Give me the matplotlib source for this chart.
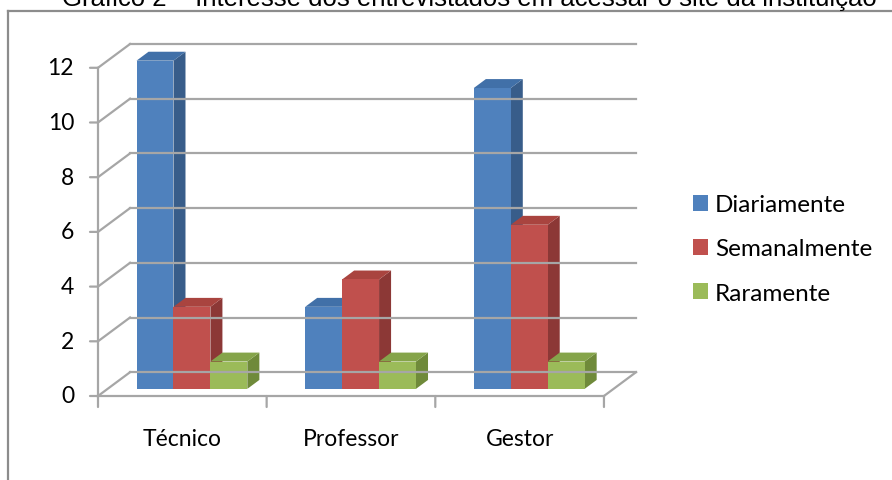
import numpy as np
import matplotlib.pyplot as plt
from matplotlib.patches import Polygon, Rectangle, Patch
from matplotlib.lines import Line2D

# dados do gráfico
categorias = ['Técnico', 'Professor', 'Gestor']
series = ['Diariamente', 'Semanalmente', 'Raramente']
diariamente = [12, 3, 11]
semanalmente = [3, 4, 6]
raramente = [1, 1, 1]
valores = [diariamente, semanalmente, raramente]
yticks = [0, 2, 4, 6, 8, 10, 12]

cor_frente = ['#4F81BD', '#C0504D', '#9BBB59']
cor_lado = ['#385D8A', '#8C3836', '#6F8A3A']
cor_topo = ['#4170A8', '#A9443F', '#85A44A']
cinza = '#A6A6A6'

# profundidade do efeito 3D (em unidades de dados)
DX, DY = 0.19, 0.87
f0, fd = 0.30, 0.375   # posição e espessura das barras na profundidade
w = 0.219              # largura de cada barra

fig = plt.figure(figsize=(8.92, 4.81), dpi=100)
ax = fig.add_axes([98/892, (481-397)/481, (636-98)/892, (397-45)/481])
ax.set_xlim(0, 3 + DX)
ax.set_ylim(0, 12 + DY)
ax.axis('off')

# parede do fundo e lateral
for v in yticks:
    ax.plot([DX, 3 + DX], [v + DY, v + DY], color=cinza, lw=1.6, clip_on=False)
    ax.plot([0, DX], [v, v + DY], color=cinza, lw=1.6, clip_on=False)
ax.plot([0, 3], [0, 0], color=cinza, lw=1.6, clip_on=False)
ax.plot([3, 3 + DX], [0, DY], color=cinza, lw=1.6, clip_on=False)
ax.plot([0, 0], [0, 12], color=cinza, lw=1.6, clip_on=False)

# marcas dos eixos
for v in yticks:
    ax.annotate('', xy=(0, v), xytext=(-8, 0), textcoords='offset pixels',
                arrowprops=dict(arrowstyle='-', color=cinza, lw=1.6,
                                shrinkA=0, shrinkB=0))
    ax.annotate(str(v), xy=(0, v), xytext=(-24, 0), textcoords='offset pixels',
                ha='right', va='center', fontsize=16.5, family='Lato')
for k in range(4):
    ax.annotate('', xy=(k, 0), xytext=(0, -11), textcoords='offset pixels',
                arrowprops=dict(arrowstyle='-', color=cinza, lw=1.6,
                                shrinkA=0, shrinkB=0))
for i, c in enumerate(categorias):
    ax.annotate(c, xy=(i + 0.5, 0), xytext=(0, -43), textcoords='offset pixels',
                ha='center', va='center', fontsize=16.5, family='Lato')

# barras 3D
bx, by = f0 * DX, f0 * DY
ddx, ddy = fd * DX, fd * DY
for i in range(len(categorias)):
    for j in range(len(series)):
        v = valores[j][i]
        x0 = i + (1 - 3 * w) / 2 + j * w + bx
        b = by
        lado = [(x0 + w, b), (x0 + w + ddx, b + ddy), (x0 + w + ddx, b + ddy + v), (x0 + w, b + v)]
        topo = [(x0, b + v), (x0 + ddx, b + v + ddy), (x0 + w + ddx, b + v + ddy), (x0 + w, b + v)]
        ax.add_patch(Polygon(lado, closed=True, fc=cor_lado[j], ec='none', clip_on=False))
        ax.add_patch(Polygon(topo, closed=True, fc=cor_topo[j], ec='none', clip_on=False))
        ax.add_patch(Rectangle((x0, b), w, v, fc=cor_frente[j], ec='none', clip_on=False))

# legenda
handles = [Patch(facecolor=c, edgecolor='none') for c in cor_frente]
fig.legend(handles, series, loc='center left', bbox_to_anchor=(693/892, 1 - 250/481),
           frameon=False, prop={'family': 'Lato', 'size': 17.5},
           borderpad=0, borderaxespad=0,
           handlelength=0.6, handleheight=0.6, handletextpad=0.3, labelspacing=0.95)

# moldura do gráfico
fig.add_artist(Line2D([8/892, 8/892], [0, 1 - 12/481], color='#8C8C8C', lw=1.6))
fig.add_artist(Line2D([8/892, 1], [1 - 12/481, 1 - 12/481], color='#8C8C8C', lw=1.6))

# título (cortado no topo, como na imagem original)
fig.text(0.526, 1 - 6/481, 'Gráfico 2 – Interesse dos entrevistados em acessar o site da instituição',
         ha='center', va='baseline', fontsize=18.5, family='Liberation Sans')

fig.savefig('out.png', dpi=100)
